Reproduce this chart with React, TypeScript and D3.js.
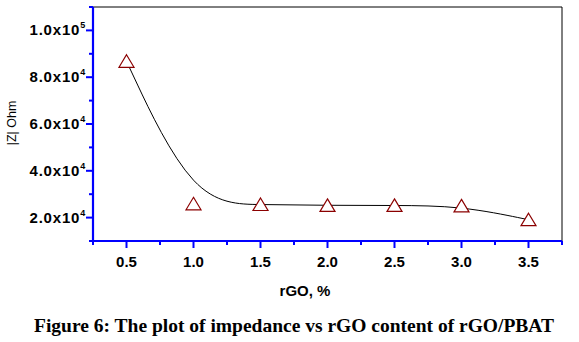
import React from "react";
import * as d3 from "d3";

const rgo = [0.5, 1.0, 1.5, 2.0, 2.5, 3.0, 3.5];
const impedance = [86800, 25900, 25600, 25200, 25200, 25000, 19100];
const xTicks = [0.5, 1.0, 1.5, 2.0, 2.5, 3.0, 3.5];
const xMinorTicks = [0.25, 0.75, 1.25, 1.75, 2.25, 2.75, 3.25, 3.75];
const yTicks = [20000, 40000, 60000, 80000, 100000];
const yMinorTicks = [10000, 30000, 50000, 70000, 90000, 110000];
const xTitle = "rGO, %";
const yTitle = "|Z| Ohm";
const caption = "Figure 6: The plot of impedance vs rGO content of rGO/PBAT";

const W = 579;
const H = 342;
const L = 93, R = 562, T = 7, B = 241;

export default function App() {
  const x = d3.scaleLinear().domain([0.25, 3.75]).range([L, R]);
  const y = d3.scaleLinear().domain([10000, 110000]).range([B, T]);
  const pts: [number, number][] = rgo.map((v, i) => [v, impedance[i]]);
  const line = d3
    .line<[number, number]>()
    .x((d) => x(d[0]))
    .y((d) => y(d[1]))
    .curve(d3.curveBasis);
  const blue = "#0000ff";
  const font = "Arial, 'Liberation Sans', sans-serif";
  const fmt = (v: number) => {
    const e = Math.floor(Math.log10(v));
    const m = v / Math.pow(10, e);
    return { m: m.toFixed(1), e: String(e) };
  };
  const tri = (cx: number, cy: number) =>
    `M${cx},${cy - 6.5}L${cx + 7.5},${cy + 6}L${cx - 7.5},${cy + 6}Z`;

  return (
    <svg
      width={W}
      height={H}
      style={{ position: "absolute", left: 0, top: 0, background: "#fff" }}
    >
      <rect x={0} y={0} width={W} height={H} fill="#fff" />
      <line x1={L} x2={R} y1={T} y2={T} stroke="#000" strokeWidth={1} />
      <line x1={R} x2={R} y1={T} y2={B} stroke="#000" strokeWidth={1} />
      <path d={line(pts) || ""} fill="none" stroke="#000" strokeWidth={1} />
      {pts.map((d, i) => (
        <path
          key={i}
          d={tri(x(d[0]), y(d[1]))}
          fill="#fff"
          stroke="#8b0000"
          strokeWidth={1.2}
        />
      ))}
      <line x1={L} x2={L} y1={T} y2={B + 1} stroke={blue} strokeWidth={2.2} />
      {yTicks.map((t) => (
        <line key={t} x1={L - 7} x2={L} y1={y(t)} y2={y(t)} stroke={blue} strokeWidth={2} />
      ))}
      {yMinorTicks.map((t) => (
        <line key={t} x1={L - 4} x2={L} y1={y(t)} y2={y(t)} stroke={blue} strokeWidth={2} />
      ))}
      {yTicks.map((t) => {
        const f = fmt(t);
        return (
          <text
            key={t}
            x={L - 7}
            y={y(t) + 5}
            textAnchor="end"
            fontFamily={font}
            fontWeight="bold"
            fontSize={15}
            letterSpacing={0.8}
          >
            {f.m + "x10"}
            <tspan fontSize={9} dy={-7}>{f.e}</tspan>
          </text>
        );
      })}
      <line x1={L - 1} x2={R} y1={B} y2={B} stroke={blue} strokeWidth={2.2} />
      {xTicks.map((t) => (
        <line key={t} x1={x(t)} x2={x(t)} y1={B} y2={B + 7} stroke={blue} strokeWidth={2} />
      ))}
      {xMinorTicks.map((t) => (
        <line key={t} x1={x(t)} x2={x(t)} y1={B} y2={B + 4} stroke={blue} strokeWidth={2} />
      ))}
      {xTicks.map((t) => (
        <text
          key={t}
          x={x(t)}
          y={267}
          textAnchor="middle"
          fontFamily={font}
          fontWeight="bold"
          fontSize={15}
        >
          {t.toFixed(1)}
        </text>
      ))}
      <text
        x={305}
        y={296}
        textAnchor="middle"
        fontFamily={font}
        fontWeight="bold"
        fontSize={15}
      >
        {xTitle}
      </text>
      <text
        transform={`translate(16,123) rotate(-90)`}
        textAnchor="middle"
        fontFamily={font}
        fontSize={12.5}
      >
        {yTitle}
      </text>
      <text
        x={294}
        y={332}
        textAnchor="middle"
        fontFamily="'Liberation Serif', 'Times New Roman', serif"
        fontWeight="bold"
        fontSize={19.5}
      >
        {caption}
      </text>
    </svg>
  );
}
